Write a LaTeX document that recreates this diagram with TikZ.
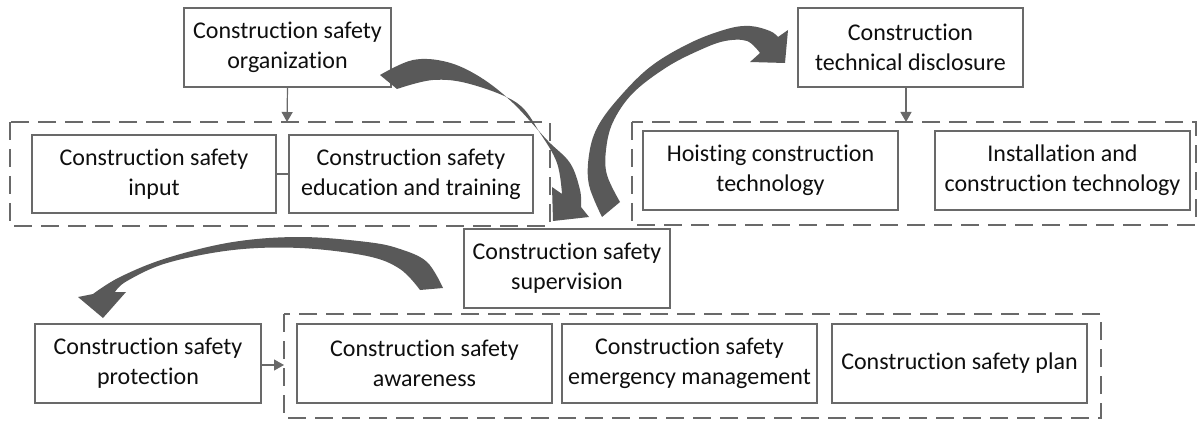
\documentclass[tikz,border=0pt]{standalone}
\usepackage{fontspec}
\setmainfont{Carlito}[Ligatures={NoCommon}]
\usetikzlibrary{arrows.meta}
\definecolor{arrowgray}{RGB}{89,89,89}
\definecolor{linegray}{RGB}{105,105,105}
\definecolor{txt}{RGB}{15,15,15}
\tikzset{
  box/.style={draw=linegray, line width=1.2pt, fill=white, align=center, inner sep=2pt,
    minimum height=79pt, text=txt, font=\fontsize{24}{30}\selectfont},
  group/.style={draw=linegray, line width=1.2pt, dash pattern=on 18pt off 9pt},
  conn/.style={draw=linegray, line width=1.2pt},
  carrow/.style={conn, -{Triangle[length=10pt,width=11pt]}},
  bigarrow/.style={fill=arrowgray, draw=none}
}
\begin{document}
\begin{tikzpicture}[x=1pt,y=-1pt]
\useasboundingbox (0,0) rectangle (1199,422);
% dashed groups
\draw[group] (10,122) rectangle (550,226);
\draw[group] (632,122) rectangle (1196,225);
\draw[group] (284,314) rectangle (1101,418);
\coordinate (g1top) at (287,122);
\coordinate (g2top) at (906,122);
\coordinate (g3left) at (284,365);
% nodes
\node[box, minimum width=207pt] (org) at (287.5,47.5) {Construction safety\\organization};
\node[box, minimum width=244pt, minimum height=78pt] (input) at (154,174) {Construction safety\\input};
\node[box, minimum width=244pt, minimum height=78pt] (edu) at (411,174) {Construction safety\\education and training};
\node[box, minimum width=225pt] (tech) at (910.5,47.5) {Construction\\technical disclosure};
\node[box, minimum width=255pt] (hoist) at (770.5,170.5) {Hoisting construction\\technology};
\node[box, minimum width=255pt] (install) at (1062.5,170.5) {Installation and\\construction technology};
\node[box, minimum width=206pt] (superv) at (567,268.5) {Construction safety\\supervision};
\node[box, minimum width=226pt] (prot) at (148,363.5) {Construction safety\\protection};
\node[box, minimum width=255pt] (aware) at (424.5,363.5) {Construction safety\\awareness};
\node[box, minimum width=255pt] (emerg) at (689.5,363.5) {Construction safety\\emergency management};
\node[box, minimum width=255pt] (plan) at (959.5,363.5) {Construction safety plan};
% small connectors
\draw[carrow] (org.south) -- (g1top);
\draw[carrow] (tech.south -| g2top) -- (g2top);
\draw[carrow] (prot.east |- g3left) -- (g3left);
\draw[conn] (input.east) -- (edu.west);
% big curved arrow A: organization -> supervision
\fill[bigarrow] plot[smooth, tension=0.6] coordinates {(380,75) (413,60) (447,62) (480,77) (513,103) (547,140) (570,163) (580,190) (581,207)}
  -- (589,217) -- (553,221) -- (552,187) -- (562,194)
  -- plot[smooth, tension=0.6] coordinates {(562,194) (557,163) (540,133) (517,103) (470,84) (433,80) (397,89)} -- cycle;
% big curved arrow B: supervision -> technical disclosure
\fill[bigarrow] plot[smooth, tension=0.6] coordinates {(602,217) (589,185) (589,155) (597,128) (617,100) (650,67) (690,43) (727,29) (750,26) (770,31) (778,37)}
  -- (788,30) -- (785,63) -- (750,62) -- (760,53)
  -- plot[smooth, tension=0.6] coordinates {(760,53) (747,41) (725,41) (700,50) (667,67) (633,93) (613,122) (606,150) (607,175) (620,202)} -- cycle;
% big curved arrow C: supervision -> protection
\fill[bigarrow] plot[smooth, tension=0.6] coordinates {(443,288) (427,262) (400,249) (367,242) (300,237) (233,242) (167,258) (120,277) (93,294)}
  -- (78,297) -- (103,318) -- (126,292) -- (115,292)
  -- plot[smooth, tension=0.6] coordinates {(115,292) (127,281) (167,263) (233,250) (300,248) (367,256) (400,269) (420,290)} -- cycle;
\end{tikzpicture}
\end{document}
